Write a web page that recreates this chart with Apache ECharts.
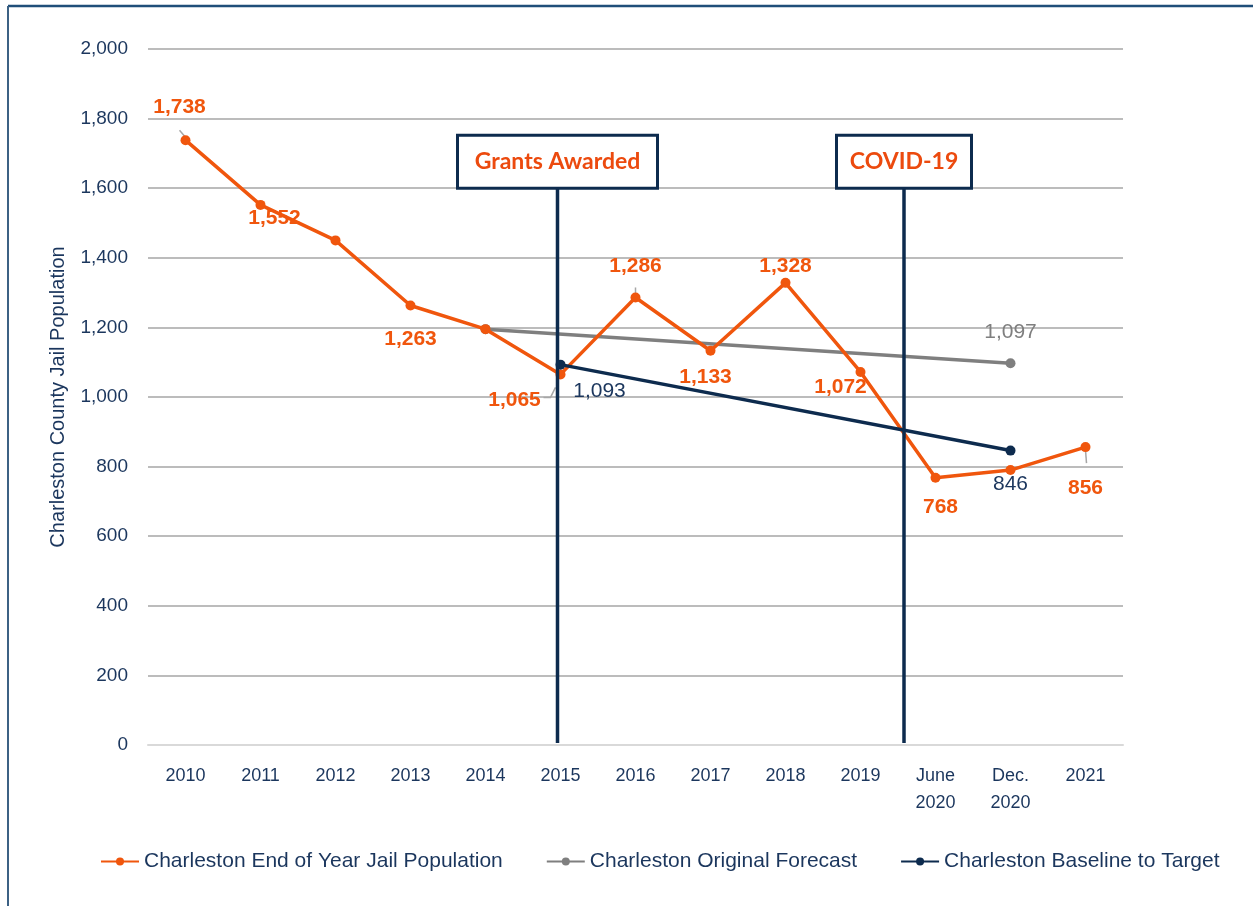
<!DOCTYPE html>
<html>
<head>
<meta charset="utf-8">
<script src="https://cdn.jsdelivr.net/npm/echarts@6/dist/echarts.min.js"></script>
<style>
  html, body { margin: 0; padding: 0; background: #fff; }
  #main { width: 1253px; height: 906px; }
</style>
</head>
<body>
<div id="main"></div>
<script>
// categories on the x axis
const periods = ['2010', '2011', '2012', '2013', '2014', '2015', '2016', '2017', '2018', '2019', 'June\n2020', 'Dec.\n2020', '2021'];
// series values
const jailPop  = [1738, 1552, 1450, 1263, 1195, 1065, 1286, 1133, 1328, 1072, 768, 790, 856];
const forecast = [null, null, null, null, 1195, null, null, null, null, null, null, 1097, null];
const baseline = [null, null, null, null, null, 1093, null, null, null, null, null, 846, null];
const yTicks = [0, 200, 400, 600, 800, 1000, 1200, 1400, 1600, 1800, 2000];

const ORANGE = '#F0560D';
const GREY = '#7F7F7F';
const NAVY = '#0D2B4E';
const TEXT = '#1B365D';

// where each orange label sits (null = no label)
const popLabels = [
  ['top', [-6, -12]], ['bottom', [14, -7]], null, ['bottom', [0, 13]], null,
  ['bottom', [-46, 5]], ['top', [0, -11]], ['bottom', [-5, 6]], ['top', [0, 4]],
  ['bottom', [-20, -5]], ['bottom', [5, 9]], null, ['bottom', [0, 21]]
];

function fmt(v) { return v.toLocaleString('en-US'); }

const chart = echarts.init(document.getElementById('main'));

const option = {
  animation: false,
  grid: { left: 148, right: 130, top: 49, bottom: 161 },
  legend: {
    bottom: 29,
    left: 95,
    itemGap: 43,
    itemWidth: 38,
    itemHeight: 10,
    textStyle: { color: TEXT, fontSize: 21, fontFamily: 'Liberation Sans' },
    data: ['Charleston End of Year Jail Population', 'Charleston Original Forecast', 'Charleston Baseline to Target']
  },
  xAxis: {
    type: 'category',
    data: periods,
    boundaryGap: true,
    axisLine: { lineStyle: { color: '#D9D9D9', width: 2 } },
    axisTick: { show: false },
    axisLabel: { color: TEXT, fontSize: 18, fontFamily: 'Liberation Sans', margin: 18, lineHeight: 27, interval: 0 }
  },
  yAxis: {
    type: 'value',
    min: yTicks[0],
    max: yTicks[yTicks.length - 1],
    interval: 200,
    name: 'Charleston County Jail Population',
    nameLocation: 'middle',
    nameGap: 80,
    nameTextStyle: { color: TEXT, fontSize: 20, fontFamily: 'Liberation Sans' },
    axisLine: { show: false },
    axisTick: { show: false },
    splitLine: { lineStyle: { color: '#A6A6A6', width: 1.5 } },
    axisLabel: { color: TEXT, fontSize: 19, fontFamily: 'Liberation Sans', margin: 20, formatter: fmt }
  },
  series: [
    {
      name: 'Charleston End of Year Jail Population',
      type: 'line',
      data: jailPop.map((v, i) => {
        const l = popLabels[i];
        return {
          value: v,
          label: l ? { show: true, position: l[0], offset: l[1] } : { show: false }
        };
      }),
      symbol: 'circle',
      symbolSize: 10,
      lineStyle: { color: ORANGE, width: 3.5 },
      itemStyle: { color: ORANGE },
      label: {
        color: ORANGE, fontSize: 21, fontWeight: 'bold', fontFamily: 'Liberation Sans',
        formatter: p => fmt(p.value)
      },
      z: 3
    },
    {
      name: 'Charleston Original Forecast',
      type: 'line',
      data: forecast.map((v, i) => ({
        value: v,
        label: i === 11 ? { show: true, position: 'top', offset: [0, -11] } : { show: false }
      })),
      connectNulls: true,
      symbol: 'circle',
      symbolSize: 10,
      lineStyle: { color: GREY, width: 3.5 },
      itemStyle: { color: GREY },
      label: { color: GREY, fontSize: 21, fontFamily: 'Liberation Sans', formatter: p => fmt(p.value) },
      z: 2
    },
    {
      name: 'Charleston Baseline to Target',
      type: 'line',
      data: baseline.map((v, i) => ({
        value: v,
        label: i === 5 ? { show: true, position: 'bottom', offset: [39, 6] }
          : i === 11 ? { show: true, position: 'bottom', offset: [0, 13] } : { show: false }
      })),
      connectNulls: true,
      symbol: 'circle',
      symbolSize: 10,
      lineStyle: { color: NAVY, width: 3.5 },
      itemStyle: { color: NAVY },
      label: { color: TEXT, fontSize: 21, fontFamily: 'Liberation Sans', formatter: p => fmt(p.value) },
      z: 4
    }
  ]
};

chart.setOption(option);

// event markers: vertical lines with boxed captions
function marker(x, text, boxW) {
  const top = chart.convertToPixel({ yAxisIndex: 0 }, 1600);
  const bottom = chart.convertToPixel({ yAxisIndex: 0 }, 0) - 2;
  const boxTop = top - 53;
  return [
    { type: 'line', z: 50, shape: { x1: x, y1: top, x2: x, y2: bottom }, style: { stroke: NAVY, lineWidth: 3.5 } },
    {
      type: 'rect', z: 51,
      shape: { x: x - boxW / 2, y: boxTop, width: boxW, height: 53 },
      style: { fill: '#fff', stroke: NAVY, lineWidth: 3 }
    },
    {
      type: 'text', z: 52, x: x, y: boxTop + 26.5,
      style: { text: text, fill: '#EC4A0E', font: 'bold 23px Lato', align: 'center', verticalAlign: 'middle' }
    }
  ];
}

// thin grey leader lines between a few labels and their points
function leader(i, pts) {
  const p = chart.convertToPixel({ xAxisIndex: 0, yAxisIndex: 0 }, [i, jailPop[i]]);
  return {
    type: 'polyline', z: 2,
    shape: { points: pts.map(d => [p[0] + d[0], p[1] + d[1]]) },
    style: { stroke: '#A6A6A6', lineWidth: 1.5, fill: null }
  };
}

const xGrants = chart.convertToPixel({ xAxisIndex: 0 }, periods[5]);
const xCovid = (chart.convertToPixel({ xAxisIndex: 0 }, periods[9]) + chart.convertToPixel({ xAxisIndex: 0 }, periods[10])) / 2 + 1;

chart.setOption({
  graphic: [
    { type: 'line', shape: { x1: 8, y1: 6, x2: 1253, y2: 6 }, style: { stroke: '#1F4E79', lineWidth: 2.5 } },
    { type: 'line', shape: { x1: 8, y1: 6, x2: 8, y2: 906 }, style: { stroke: '#3C6184', lineWidth: 2 } },
    leader(0, [[-6, -10], [0, -3]]),
    leader(6, [[0, -10], [0, -3]]),
    leader(12, [[0, 3], [1, 16]]),
    leader(5, [[-17, 23], [-10, 23], [-5, 13]])
  ].concat(marker(xGrants - 3, 'Grants Awarded', 200), marker(xCovid + 5, 'COVID-19', 135))
});
</script>
</body>
</html>
